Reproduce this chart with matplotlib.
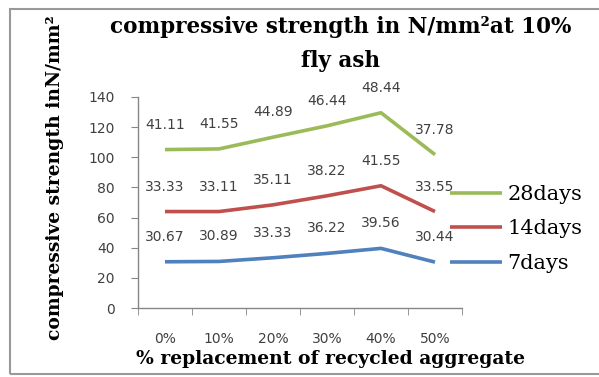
import numpy as np
import matplotlib
matplotlib.use("Agg")
import matplotlib.pyplot as plt
from matplotlib.patches import Rectangle

categories = ["0%", "10%", "20%", "30%", "40%", "50%"]
days7 = [30.67, 30.89, 33.33, 36.22, 39.56, 30.44]
days14 = [33.33, 33.11, 35.11, 38.22, 41.55, 33.55]
days28 = [41.11, 41.55, 44.89, 46.44, 48.44, 37.78]
series_names = ["7days", "14days", "28days"]
series_colors = ["#4F81BD", "#C0504D", "#9BBB59"]
yticks = [0, 20, 40, 60, 80, 100, 120, 140]

W, H = 599, 377
fig = plt.figure(figsize=(W / 100, H / 100), dpi=100)
ax = fig.add_axes([138 / W, 1 - 308 / H, (462 - 138) / W, (308 - 97) / H])

x = np.arange(len(categories))
stack = np.cumsum(np.array([days7, days14, days28]), axis=0)
handles = []
for vals, top, name, col in zip([days7, days14, days28], stack, series_names, series_colors):
    h, = ax.plot(x, top, color=col, lw=2.6, solid_capstyle="butt", label=name)
    handles.append(h)
    for xi, yi, v in zip(x, top, vals):
        ax.annotate(f"{v:.2f}", (xi, yi), xytext=(0, 18), textcoords="offset points",
                    ha="center", va="center", fontsize=10, color="#404040",
                    family="DejaVu Sans")

ax.set_xlim(-0.5, len(categories) - 0.5)
ax.set_ylim(0, 140)
ax.set_yticks(yticks)
ax.set_xticks(x)
ax.set_xticklabels(categories)
ax.set_xticks(np.arange(len(categories) + 1) - 0.5, minor=True)
ax.tick_params(axis="x", which="major", length=0, pad=17, labelsize=10, labelcolor="#404040")
ax.tick_params(axis="x", which="minor", length=5, color="#868686", direction="out")
ax.tick_params(axis="y", length=5, color="#868686", direction="out", pad=12,
               labelsize=10, labelcolor="#404040")
for s in ["top", "right"]:
    ax.spines[s].set_visible(False)
for s in ["left", "bottom"]:
    ax.spines[s].set_color("#868686")
    ax.spines[s].set_linewidth(1)

serif = "DejaVu Serif"
fig.text(341 / W, 1 - 33 / H, "compressive strength in N/mm\u00b2at 10%", ha="center",
         va="baseline", fontsize=15.5, fontweight="bold", family=serif)
fig.text(341 / W, 1 - 67 / H, "fly ash", ha="center", va="baseline", fontsize=15.5,
         fontweight="bold", family=serif)
fig.text(55 / W, 1 - 178 / H, "compressive strength inN/mm\u00b2", rotation=90,
         ha="center", va="center", fontsize=13.5, fontweight="bold", family=serif)
fig.text(330 / W, 1 - 364 / H, "% replacement of recycled aggregate", ha="center",
         va="baseline", fontsize=13.5, fontweight="bold", family=serif)

leg = ax.legend(handles[::-1], series_names[::-1], loc="center left",
                bbox_to_anchor=(440 / W, 1 - 229 / H), bbox_transform=fig.transFigure,
                frameon=False, prop={"family": serif, "size": 15},
                handlelength=2.5, handletextpad=0.25, labelspacing=0.75, borderpad=0)

fig.add_artist(Rectangle((10 / W, 1 - 374 / H), 1.2, (374 - 9) / H, transform=fig.transFigure,
                         fill=False, edgecolor="#999999", lw=1.5))

fig.savefig("out.png", dpi=100)
